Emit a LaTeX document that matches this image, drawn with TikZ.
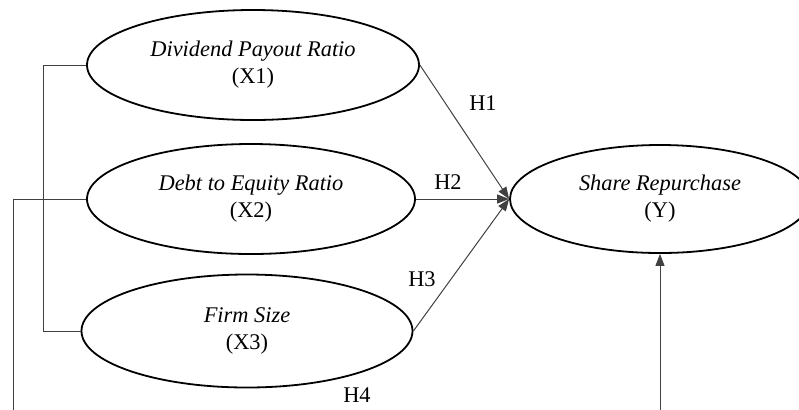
\documentclass[tikz,border=0pt]{standalone}
\usepackage{fontspec}
\setmainfont{Liberation Serif}
\usetikzlibrary{arrows.meta,shapes.geometric}

\begin{document}
\begin{tikzpicture}[x=0.5pt,y=0.5pt,
  var/.style={draw,ellipse,line width=0.9pt,align=center,inner sep=0pt,font=\fontsize{11.2}{13.5}\selectfont},
  link/.style={draw=black!75,line width=0.5pt},
  tip/.style={-{Triangle[length=6pt,width=4.5pt]}},
  hyp/.style={font=\fontsize{11.2}{13}\selectfont}]
  \useasboundingbox (0,0) rectangle (799,-409);
  \clip (0,0) rectangle (799,-409);

  \node[var,minimum width=166pt,minimum height=55pt] (x1) at (253,-65) {\textit{Dividend Payout Ratio}\\(X1)};
  \node[var,minimum width=164pt,minimum height=55pt] (x2) at (251,-199) {\textit{Debt to Equity Ratio}\\(X2)};
  \node[var,minimum width=165.5pt,minimum height=56.5pt] (x3) at (247,-331) {\textit{Firm Size}\\(X3)};
  \node[var,minimum width=150pt,minimum height=54pt] (y) at (660,-199) {\textit{Share Repurchase}\\(Y)};

  \foreach \s in {x1,x2,x3}{
    \draw[link,tip] (\s.east) -- (y.west);
  }
  \draw[link] (x1.west) -- ++(-43,0) |- (x3.west);
  \draw[link,tip] (x2.west) -| (13,-440) -| (y.south);

  \node[hyp] (h1) at (483,-103) {H1};
  \node[hyp] (h2) at (448,-182) {H2};
  \node[hyp] (h3) at (422,-279) {H3};
  \node[hyp] (h4) at (357,-395) {H4};
\end{tikzpicture}
\end{document}
